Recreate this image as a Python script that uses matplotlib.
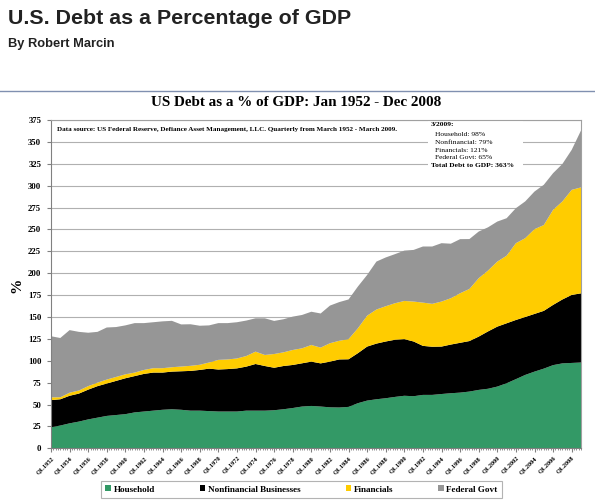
import matplotlib
matplotlib.use("Agg")
import matplotlib.pyplot as plt
from matplotlib.patches import Patch, Rectangle
from matplotlib.ticker import MultipleLocator

# ---- data (annual readings, Q1 of each year, % of GDP) ----
years = list(range(1952, 2010))
household = [24, 26, 28.5, 30.5, 33, 35, 37, 38, 39, 41,
             42, 43, 44, 44.6, 44, 43, 43, 42.5, 42, 42,
             42, 43, 43, 43, 43.5, 44.6, 46, 47.7, 48.4, 47.7,
             46.8, 46.6, 47.3, 51.5, 54.5, 56, 57.2, 58.7, 60, 59.5,
             61, 61, 62, 62.9, 63.6, 64.8, 66.7, 68, 70.5, 74.3,
             79, 83.8, 87.6, 91, 95, 97, 97.5, 98]
nonfinancial = [31, 30, 31.5, 32, 34, 36, 37, 39, 41, 41.5,
                43, 43.5, 42.5, 43, 44, 45.4, 46.5, 48.5, 48, 48.5,
                49.3, 50.3, 53.3, 51, 48.5, 49.4, 49.2, 49.4, 50.6, 49.3,
                52.2, 54.9, 54.4, 57.1, 61.7, 63.6, 64.8, 65.3, 64.7, 62.5,
                56, 55, 54.2, 55.6, 56.9, 57.7, 60.9, 65.5, 68.5, 68.5,
                67.6, 66.2, 65.9, 66, 68.8, 73, 77.7, 79]
financials = [3.2, 2.3, 3.5, 3.5, 4, 4, 4.5, 4.5, 4.5, 4,
              4.5, 5, 5, 5, 5.4, 5.8, 5.9, 7, 11, 11,
              11.3, 12.1, 14.1, 12.6, 15.7, 15.6, 17.1, 17.1, 19, 18,
              21, 21.3, 23, 28.4, 35.3, 38.9, 40.3, 41.7, 43.6, 45.6,
              49.4, 49, 51.4, 52.9, 56.6, 59.5, 66.7, 69.5, 74.3, 77.2,
              87.7, 90, 96.8, 98, 108.6, 112, 120, 121]
federal = [69.8, 67.7, 71.5, 67, 61, 58, 59.5, 57, 55.9, 56.5,
           53.5, 52.5, 53.5, 53, 48.1, 47.5, 44.6, 42.4, 42, 41.5,
           41.4, 40.5, 38.1, 41.9, 37.8, 37.8, 38.1, 38.1, 38, 39,
           43, 44.2, 45.3, 47.7, 46.5, 54.8, 55.7, 56.1, 57.5, 59,
           64.1, 65.5, 66.7, 62.3, 61.8, 57, 53.3, 49.4, 45.7, 42.8,
           40, 42, 43, 46, 41.9, 42.8, 45.7, 65]
series_names = ["Household", "Nonfinancial Businesses", "Financials", "Federal Govt"]
colors = ["#339966", "#000000", "#FFCC00", "#969696"]
tick_years = list(range(1952, 2009, 2))
tick_labels = ["Q1.%d" % y for y in tick_years]
y_ticks = list(range(0, 376, 25))

serif = ["Liberation Serif", "DejaVu Serif"]
sans = ["Liberation Sans", "DejaVu Sans"]

fig = plt.figure(figsize=(5.95, 5.04), dpi=100)
W, H = 595.0, 504.0

# header
fig.text(8 / W, 1 - 18 / H, "U.S. Debt as a Percentage of GDP", family=sans,
         fontsize=15.4, fontweight="bold", color="#222222", va="center", ha="left")
fig.text(8 / W, 1 - 44 / H, "By Robert Marcin", family=sans,
         fontsize=9.3, fontweight="bold", color="#222222", va="center", ha="left")
fig.add_artist(plt.Line2D([0, 1], [1 - 91 / H, 1 - 91 / H], color="#8090b0", lw=1,
                          transform=fig.transFigure))
fig.text(296 / W, 1 - 102 / H, "US Debt as a % of GDP: Jan 1952 - Dec 2008", family=serif,
         fontsize=10.9, fontweight="bold", color="black", va="center", ha="center")

left, right, top, bottom = 51, 581, 120, 448.3
ax = fig.add_axes([left / W, 1 - bottom / H, (right - left) / W, (bottom - top) / H])

ax.stackplot(years, household, nonfinancial, financials, federal,
             colors=colors, labels=series_names, linewidth=0, zorder=2)

ax.set_xlim(1952, 2009)
ax.set_ylim(0, 375)
ax.set_yticks(y_ticks)
ax.set_yticklabels([str(v) for v in y_ticks], family=serif, fontweight="bold", fontsize=6.3)
ax.set_xticks(tick_years)
ax.set_xticklabels(tick_labels, family=serif, fontweight="bold", fontsize=4.6,
                   rotation=45, ha="right", rotation_mode="anchor")
ax.xaxis.set_minor_locator(MultipleLocator(0.25))
ax.tick_params(axis="x", which="major", length=3, color="#808080", pad=2)
ax.tick_params(axis="x", which="minor", length=1.5, color="#808080")
ax.tick_params(axis="y", length=3, color="#808080", pad=4)
ax.set_axisbelow(True)
ax.grid(axis="y", color="#b0b0b0", lw=0.8, zorder=0.5)
for s in ["top", "right"]:
    ax.spines[s].set_color("#a0a0a0")
for s in ["left", "bottom"]:
    ax.spines[s].set_color("#808080")

fig.text(17 / W, 1 - 285 / H, "%", family=serif, fontsize=11, fontweight="bold",
         rotation=90, va="center", ha="center")

fig.text(57 / W, 1 - 130 / H,
         "Data source: US Federal Reserve, Defiance Asset Management, LLC. Quarterly from March 1952 - March 2009.",
         family=serif, fontsize=5.1, fontweight="bold", va="center", ha="left")

# annotation box
ax.add_patch(Rectangle(((428 - left) / (right - left), (bottom - 185) / (bottom - top)),
                       (523 - 428) / (right - left), (185 - top) / (bottom - top),
                       transform=ax.transAxes, facecolor="white", edgecolor="none", zorder=1))
ann = [("3/2009:", 430.7, 124, "bold"),
       ("Household: 98%", 435, 134.5, "normal"),
       ("Nonfinancial: 79%", 435, 142.3, "normal"),
       ("Financials: 121%", 435, 150, "normal"),
       ("Federal Govt: 65%", 435, 157.7, "normal"),
       ("Total Debt to GDP: 363%", 430.7, 165.3, "bold")]
for txt, x, y, w in ann:
    fig.text(x / W, 1 - y / H, txt, family=serif, fontsize=5.4, fontweight=w,
             va="center", ha="left", color="black")

handles = [Patch(facecolor=c, edgecolor="none") for c in colors]
leg = fig.legend(handles, series_names, loc="center", ncol=4,
                 bbox_to_anchor=(301.5 / W, 1 - 489.5 / H),
                 prop={"family": serif, "weight": "bold", "size": 6.6},
                 handlelength=0.6, handleheight=0.6, handletextpad=0.3,
                 columnspacing=4.9, frameon=True, fancybox=False,
                 borderpad=0.5)
leg.get_frame().set_edgecolor("#a0a0a0")
leg.get_frame().set_linewidth(0.8)

fig.savefig("out.png", dpi=100)
